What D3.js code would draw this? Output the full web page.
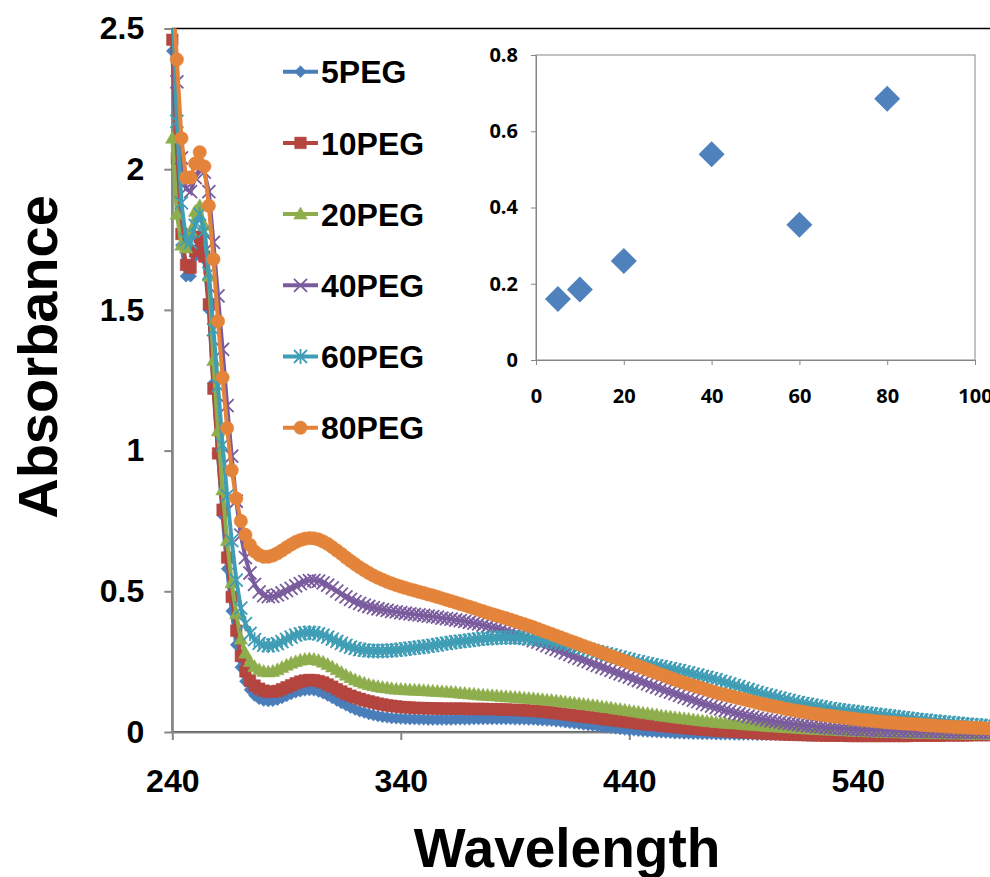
<!DOCTYPE html>
<html>
<head>
<meta charset="utf-8">
<script src="https://cdn.jsdelivr.net/npm/d3@7"></script>
<style>
body { margin: 0; background: #fff; }
svg text { font-family: "Liberation Sans", Arial, sans-serif; font-weight: bold; }
</style>
</head>
<body>
<div id="chart"></div>
<script>
// Chart size
var svgWidth = 990;
var svgHeight = 877;

// Wavelength grid (nm), one reading every 2 nm
var wavelength = d3.range(240, 601, 2);

// Absorbance readings for each sample, 240..600 nm
var abs5 = [
  2.42, 2.00, 1.73, 1.62, 1.62, 1.69, 1.74, 1.68, 1.50, 1.24,
  0.99, 0.77, 0.58, 0.43, 0.31, 0.23, 0.18, 0.15, 0.13, 0.118,
  0.112, 0.110, 0.111, 0.115, 0.121, 0.128, 0.135, 0.141, 0.145, 0.148,
  0.149, 0.148, 0.144, 0.138, 0.130, 0.121, 0.112, 0.103, 0.095, 0.087,
  0.080, 0.074, 0.069, 0.064, 0.060, 0.057, 0.054, 0.052, 0.050, 0.049,
  0.048, 0.047, 0.046, 0.046, 0.045, 0.045, 0.044, 0.044, 0.044, 0.044,
  0.044, 0.044, 0.045, 0.045, 0.045, 0.045, 0.046, 0.046, 0.046, 0.046,
  0.046, 0.046, 0.046, 0.046, 0.046, 0.045, 0.045, 0.045, 0.044, 0.044,
  0.043, 0.042, 0.041, 0.040, 0.038, 0.037, 0.035, 0.033, 0.031, 0.029,
  0.027, 0.025, 0.023, 0.021, 0.019, 0.017, 0.015, 0.013, 0.011, 0.009,
  0.007, 0.006, 0.004, 0.003, 0.002, 0.001, 0.000, -0.001, -0.002, -0.003,
  -0.004, -0.004, -0.005, -0.005, -0.006, -0.006, -0.007, -0.007, -0.007, -0.008,
  -0.008, -0.008, -0.008, -0.009, -0.009, -0.009, -0.009, -0.009, -0.010, -0.010,
  -0.010, -0.010, -0.010, -0.010, -0.010, -0.010, -0.010, -0.010, -0.010, -0.010,
  -0.010, -0.010, -0.010, -0.010, -0.010, -0.010, -0.010, -0.010, -0.010, -0.010,
  -0.010, -0.010, -0.010, -0.010, -0.010, -0.010, -0.010, -0.009, -0.009, -0.009,
  -0.009, -0.009, -0.009, -0.009, -0.009, -0.009, -0.009, -0.008, -0.008, -0.008,
  -0.008, -0.008, -0.008, -0.008, -0.008, -0.008, -0.008, -0.008, -0.007, -0.007,
  -0.007
];

var abs10 = [
  2.46, 2.04, 1.77, 1.66, 1.65, 1.71, 1.76, 1.69, 1.52, 1.22,
  0.99, 0.79, 0.62, 0.48, 0.36, 0.27, 0.215, 0.183, 0.165, 0.154,
  0.147, 0.143, 0.143, 0.146, 0.152, 0.159, 0.166, 0.173, 0.179, 0.183,
  0.185, 0.184, 0.181, 0.176, 0.169, 0.161, 0.152, 0.144, 0.136, 0.129,
  0.123, 0.118, 0.113, 0.109, 0.105, 0.101, 0.098, 0.095, 0.093, 0.091,
  0.089, 0.088, 0.087, 0.086, 0.085, 0.085, 0.084, 0.084, 0.084, 0.083,
  0.083, 0.083, 0.083, 0.083, 0.083, 0.082, 0.082, 0.082, 0.082, 0.081,
  0.081, 0.081, 0.080, 0.080, 0.079, 0.079, 0.078, 0.077, 0.076, 0.075,
  0.074, 0.073, 0.071, 0.069, 0.067, 0.065, 0.063, 0.061, 0.059, 0.057,
  0.055, 0.053, 0.051, 0.049, 0.047, 0.045, 0.043, 0.041, 0.039, 0.037,
  0.035, 0.033, 0.031, 0.029, 0.027, 0.026, 0.024, 0.022, 0.021, 0.019,
  0.018, 0.016, 0.015, 0.013, 0.012, 0.010, 0.009, 0.008, 0.006, 0.005,
  0.004, 0.003, 0.002, 0.001, 0.000, -0.001, -0.002, -0.003, -0.004, -0.005,
  -0.006, -0.007, -0.007, -0.008, -0.009, -0.009, -0.010, -0.010, -0.011, -0.011,
  -0.012, -0.012, -0.012, -0.013, -0.013, -0.013, -0.013, -0.013, -0.014, -0.014,
  -0.014, -0.014, -0.014, -0.014, -0.014, -0.014, -0.014, -0.014, -0.014, -0.014,
  -0.014, -0.014, -0.013, -0.013, -0.013, -0.013, -0.013, -0.013, -0.013, -0.012,
  -0.012, -0.012, -0.012, -0.012, -0.012, -0.011, -0.011, -0.011, -0.011, -0.011,
  -0.011
];

var abs20 = [
  2.11, 1.84, 1.73, 1.72, 1.78, 1.85, 1.87, 1.80, 1.62, 1.32,
  1.07, 0.86, 0.68, 0.53, 0.42, 0.33, 0.28, 0.25, 0.232, 0.221,
  0.215, 0.213, 0.215, 0.221, 0.229, 0.237, 0.244, 0.250, 0.255, 0.258,
  0.259, 0.258, 0.254, 0.248, 0.240, 0.231, 0.221, 0.211, 0.202, 0.193,
  0.185, 0.179, 0.173, 0.168, 0.164, 0.161, 0.158, 0.156, 0.154, 0.152,
  0.151, 0.150, 0.149, 0.148, 0.148, 0.147, 0.146, 0.145, 0.144, 0.143,
  0.142, 0.141, 0.140, 0.138, 0.137, 0.135, 0.134, 0.132, 0.131, 0.130,
  0.129, 0.128, 0.126, 0.125, 0.124, 0.123, 0.122, 0.120, 0.119, 0.118,
  0.116, 0.115, 0.113, 0.112, 0.110, 0.108, 0.106, 0.104, 0.102, 0.100,
  0.098, 0.096, 0.094, 0.092, 0.089, 0.087, 0.085, 0.082, 0.080, 0.077,
  0.075, 0.072, 0.070, 0.067, 0.065, 0.062, 0.060, 0.057, 0.055, 0.053,
  0.051, 0.049, 0.047, 0.045, 0.043, 0.041, 0.039, 0.037, 0.036, 0.034,
  0.033, 0.031, 0.030, 0.029, 0.028, 0.026, 0.025, 0.024, 0.023, 0.021,
  0.020, 0.019, 0.018, 0.017, 0.016, 0.015, 0.014, 0.013, 0.012, 0.011,
  0.010, 0.009, 0.008, 0.007, 0.007, 0.006, 0.005, 0.004, 0.004, 0.003,
  0.002, 0.002, 0.001, 0.000, 0.000, -0.001, -0.001, -0.002, -0.002, -0.003,
  -0.003, -0.004, -0.004, -0.004, -0.005, -0.005, -0.005, -0.006, -0.006, -0.006,
  -0.007, -0.007, -0.007, -0.007, -0.008, -0.008, -0.008, -0.008, -0.008, -0.009,
  -0.009
];

var abs40 = [
  2.60, 2.31, 2.04, 1.93, 1.92, 1.97, 2.00, 1.99, 1.92, 1.74,
  1.55, 1.36, 1.16, 0.98, 0.82, 0.70, 0.62, 0.565, 0.525, 0.498,
  0.485, 0.481, 0.482, 0.487, 0.494, 0.502, 0.510, 0.519, 0.527, 0.534,
  0.538, 0.539, 0.536, 0.530, 0.522, 0.512, 0.501, 0.490, 0.480, 0.471,
  0.463, 0.457, 0.451, 0.446, 0.442, 0.438, 0.435, 0.432, 0.429, 0.427,
  0.424, 0.422, 0.420, 0.418, 0.416, 0.414, 0.412, 0.410, 0.408, 0.405,
  0.403, 0.401, 0.398, 0.396, 0.393, 0.390, 0.387, 0.384, 0.380, 0.376,
  0.372, 0.368, 0.363, 0.358, 0.353, 0.348, 0.342, 0.337, 0.331, 0.325,
  0.319, 0.313, 0.307, 0.300, 0.294, 0.288, 0.281, 0.275, 0.268, 0.262,
  0.256, 0.250, 0.243, 0.237, 0.231, 0.225, 0.219, 0.213, 0.207, 0.201,
  0.195, 0.189, 0.183, 0.177, 0.171, 0.165, 0.159, 0.153, 0.147, 0.142,
  0.136, 0.130, 0.124, 0.119, 0.113, 0.108, 0.102, 0.097, 0.092, 0.087,
  0.082, 0.077, 0.073, 0.068, 0.064, 0.060, 0.056, 0.053, 0.049, 0.046,
  0.043, 0.040, 0.037, 0.035, 0.032, 0.030, 0.028, 0.026, 0.024, 0.022,
  0.021, 0.019, 0.018, 0.016, 0.015, 0.014, 0.013, 0.012, 0.011, 0.010,
  0.009, 0.008, 0.008, 0.007, 0.006, 0.006, 0.005, 0.005, 0.004, 0.004,
  0.003, 0.003, 0.003, 0.002, 0.002, 0.002, 0.001, 0.001, 0.001, 0.001,
  0.000, 0.000, 0.000, 0.000, 0.000, -0.001, -0.001, -0.001, -0.001, -0.001,
  -0.001
];

var abs60 = [
  2.60, 2.17, 1.88, 1.75, 1.74, 1.80, 1.84, 1.78, 1.63, 1.43,
  1.23, 1.02, 0.84, 0.68, 0.54, 0.44, 0.385, 0.350, 0.328, 0.315,
  0.309, 0.307, 0.309, 0.314, 0.321, 0.329, 0.337, 0.344, 0.349, 0.352,
  0.353, 0.352, 0.349, 0.344, 0.337, 0.330, 0.322, 0.315, 0.308, 0.302,
  0.297, 0.293, 0.291, 0.289, 0.288, 0.288, 0.288, 0.289, 0.290, 0.291,
  0.293, 0.295, 0.297, 0.299, 0.301, 0.303, 0.305, 0.308, 0.310, 0.313,
  0.315, 0.318, 0.320, 0.322, 0.324, 0.326, 0.328, 0.330, 0.332, 0.333,
  0.334, 0.335, 0.336, 0.336, 0.336, 0.336, 0.335, 0.334, 0.333, 0.331,
  0.329, 0.327, 0.325, 0.322, 0.319, 0.316, 0.313, 0.309, 0.305, 0.302,
  0.298, 0.294, 0.290, 0.286, 0.282, 0.278, 0.274, 0.270, 0.266, 0.262,
  0.258, 0.254, 0.250, 0.246, 0.242, 0.239, 0.235, 0.232, 0.228, 0.225,
  0.221, 0.218, 0.214, 0.210, 0.206, 0.202, 0.198, 0.194, 0.190, 0.186,
  0.181, 0.176, 0.171, 0.166, 0.161, 0.156, 0.151, 0.146, 0.141, 0.136,
  0.132, 0.128, 0.124, 0.120, 0.116, 0.112, 0.108, 0.104, 0.101, 0.098,
  0.095, 0.092, 0.089, 0.086, 0.083, 0.080, 0.078, 0.076, 0.074, 0.072,
  0.070, 0.068, 0.066, 0.064, 0.062, 0.060, 0.058, 0.056, 0.054, 0.052,
  0.050, 0.048, 0.046, 0.044, 0.042, 0.041, 0.039, 0.037, 0.036, 0.034,
  0.033, 0.031, 0.030, 0.028, 0.027, 0.025, 0.024, 0.023, 0.021, 0.020,
  0.019
];

var abs80 = [
  2.65, 2.39, 2.11, 1.97, 1.97, 2.02, 2.06, 2.01, 1.87, 1.68,
  1.46, 1.26, 1.08, 0.93, 0.83, 0.75, 0.70, 0.665, 0.642, 0.629,
  0.623, 0.623, 0.627, 0.635, 0.645, 0.656, 0.666, 0.675, 0.682, 0.687,
  0.689, 0.688, 0.684, 0.677, 0.668, 0.657, 0.645, 0.633, 0.620, 0.608,
  0.596, 0.585, 0.575, 0.565, 0.556, 0.548, 0.541, 0.534, 0.528, 0.522,
  0.517, 0.512, 0.507, 0.503, 0.498, 0.494, 0.489, 0.485, 0.480, 0.475,
  0.470, 0.465, 0.460, 0.455, 0.450, 0.445, 0.440, 0.434, 0.429, 0.424,
  0.419, 0.414, 0.409, 0.404, 0.399, 0.394, 0.388, 0.383, 0.378, 0.372,
  0.366, 0.360, 0.354, 0.348, 0.342, 0.336, 0.330, 0.324, 0.318, 0.312,
  0.306, 0.300, 0.294, 0.288, 0.282, 0.276, 0.270, 0.264, 0.258, 0.252,
  0.246, 0.240, 0.234, 0.228, 0.222, 0.216, 0.210, 0.204, 0.198, 0.192,
  0.186, 0.180, 0.175, 0.170, 0.165, 0.160, 0.155, 0.150, 0.145, 0.140,
  0.136, 0.132, 0.128, 0.124, 0.120, 0.116, 0.112, 0.108, 0.104, 0.100,
  0.097, 0.093, 0.090, 0.087, 0.083, 0.080, 0.077, 0.074, 0.072, 0.069,
  0.066, 0.064, 0.061, 0.059, 0.057, 0.055, 0.053, 0.051, 0.049, 0.047,
  0.045, 0.043, 0.042, 0.040, 0.038, 0.037, 0.035, 0.034, 0.033, 0.031,
  0.030, 0.029, 0.028, 0.027, 0.025, 0.024, 0.023, 0.022, 0.021, 0.020,
  0.019, 0.018, 0.018, 0.017, 0.016, 0.015, 0.014, 0.014, 0.013, 0.012,
  0.012
];

var seriesNames = ["5PEG", "10PEG", "20PEG", "40PEG", "60PEG", "80PEG"];
var seriesValues = [abs5, abs10, abs20, abs40, abs60, abs80];
var seriesColors = ["#4a7ebb", "#b5453f", "#8eae4d", "#7a5c9e", "#3f9db5", "#e4843a"];
var seriesMarkers = ["diamond", "square", "triangle", "cross", "star", "circle"];

// Main axis ticks
var xTicks = [240, 340, 440, 540];
var yTicks = [0, 0.5, 1, 1.5, 2, 2.5];

// Inset: absorbance at the hump vs PEG amount
var insetPEG = [5, 10, 20, 40, 60, 80];
var insetAbs = [0.16, 0.185, 0.26, 0.54, 0.355, 0.685];
var insetXTicks = [0, 20, 40, 60, 80, 100];
var insetYTicks = [0, 0.2, 0.4, 0.6, 0.8];

var svg = d3.select("#chart")
    .append("svg")
    .attr("width", svgWidth)
    .attr("height", svgHeight);

var x = d3.scaleLinear().domain([240, 600]).range([172.3, 994.9]);
var y = d3.scaleLinear().domain([0, 2.5]).range([732, 28.5]);

var axisGrey = "#868686";

// Plot area border (only top is visible, the axes cover the rest)
svg.append("rect")
    .attr("x", x(240))
    .attr("y", y(2.5))
    .attr("width", x(600) - x(240))
    .attr("height", y(0) - y(2.5))
    .attr("fill", "none")
    .attr("stroke", "#000")
    .attr("stroke-width", 1.5);

// Axes
var yAxis = svg.append("g")
    .attr("transform", `translate(${x(240)},0)`)
    .call(d3.axisLeft(y).tickValues(yTicks).tickSize(8).tickSizeOuter(0).tickPadding(20).tickFormat(d => d));

var xAxis = svg.append("g")
    .attr("transform", `translate(0,${y(0)})`)
    .call(d3.axisBottom(x).tickValues(xTicks).tickSize(8).tickSizeOuter(0).tickPadding(29).tickFormat(d => d));

[yAxis, xAxis].forEach(function(g) {
    g.selectAll("path, line").attr("stroke", axisGrey).attr("stroke-width", 2);
    g.selectAll("text")
        .attr("font-size", 32)
        .attr("fill", "#000")
        .style("font-family", "'Liberation Sans', Arial, sans-serif")
        .style("font-weight", "bold");
});

// Axis titles
svg.append("text")
    .attr("x", 567)
    .attr("y", 867)
    .attr("text-anchor", "middle")
    .attr("font-size", 55)
    .text("Wavelength");

svg.append("text")
    .attr("transform", "translate(57,357) rotate(-90)")
    .attr("text-anchor", "middle")
    .attr("font-size", 56)
    .text("Absorbance");

// Marker shapes
function markerPath(kind) {
    switch (kind) {
        case "diamond": return "M0,-6L6,0L0,6L-6,0Z";
        case "square": return "M-5.8,-5.8H5.8V5.8H-5.8Z";
        case "triangle": return "M0,-7L6.8,5H-6.8Z";
        case "cross": return "M-6.5,-6.5L6.5,6.5M-6.5,6.5L6.5,-6.5";
        case "star": return "M-6.5,-6.5L6.5,6.5M-6.5,6.5L6.5,-6.5M0,-7.5V7.5";
        default: return d3.symbol(d3.symbolCircle, Math.PI * 6.7 * 6.7)();
    }
}

function drawMarker(g, kind, color) {
    var p = g.append("path").attr("d", markerPath(kind));
    if (kind === "cross" || kind === "star") {
        p.attr("fill", "none").attr("stroke", color).attr("stroke-width", 1.8);
    } else {
        p.attr("fill", color).attr("stroke", color).attr("stroke-width", 0.5);
    }
}

// Clip at the top of the plot area
svg.append("clipPath")
    .attr("id", "plotClip")
    .append("rect")
    .attr("x", 150)
    .attr("y", y(2.5))
    .attr("width", 860)
    .attr("height", 780);

var plot = svg.append("g").attr("clip-path", "url(#plotClip)");

var line = d3.line()
    .x((d, i) => x(wavelength[i]))
    .y(d => y(d));

seriesValues.forEach(function(vals, s) {
    var color = seriesColors[s];
    plot.append("path")
        .datum(vals)
        .attr("d", line)
        .attr("fill", "none")
        .attr("stroke", color)
        .attr("stroke-width", 4)
        .attr("stroke-linejoin", "round");

    var mg = plot.append("g");
    vals.forEach(function(v, i) {
        var g = mg.append("g").attr("transform", `translate(${x(wavelength[i])},${y(v)})`);
        drawMarker(g, seriesMarkers[s], color);
    });
});

// Legend
var legend = svg.append("g");
seriesNames.forEach(function(name, i) {
    var ly = 71.7 + i * 71.2;
    legend.append("line")
        .attr("x1", 283).attr("x2", 318)
        .attr("y1", ly).attr("y2", ly)
        .attr("stroke", seriesColors[i])
        .attr("stroke-width", 4);
    var g = legend.append("g").attr("transform", `translate(300.5,${ly})`);
    drawMarker(g, seriesMarkers[i], seriesColors[i]);
    legend.append("text")
        .attr("x", 321)
        .attr("y", ly + 11.7)
        .attr("font-size", 32)
        .text(name);
});

// Inset chart
var ix = d3.scaleLinear().domain([0, 100]).range([536, 975]);
var iy = d3.scaleLinear().domain([0, 0.8]).range([360, 55]);

var inset = svg.append("g");

inset.append("rect")
    .attr("x", ix(0))
    .attr("y", iy(0.8))
    .attr("width", ix(100) - ix(0))
    .attr("height", iy(0) - iy(0.8))
    .attr("fill", "#fff")
    .attr("stroke", axisGrey)
    .attr("stroke-width", 1);

var iyAxis = inset.append("g")
    .attr("transform", `translate(${ix(0)},0)`)
    .call(d3.axisLeft(iy).tickValues(insetYTicks).tickSize(5).tickSizeOuter(0).tickPadding(13).tickFormat(d => d));

var ixAxis = inset.append("g")
    .attr("transform", `translate(0,${iy(0)})`)
    .call(d3.axisBottom(ix).tickValues(insetXTicks).tickSize(5).tickSizeOuter(0).tickPadding(24).tickFormat(d => d));

[iyAxis, ixAxis].forEach(function(g) {
    g.selectAll("path, line").attr("stroke", axisGrey).attr("stroke-width", 1);
    g.selectAll("text")
        .attr("font-size", 20)
        .attr("fill", "#000")
        .style("font-family", "'Open Sans', 'Liberation Sans', sans-serif")
        .style("font-weight", "bold");
});

inset.selectAll("path.pt")
    .data(insetPEG)
    .enter()
    .append("path")
    .attr("class", "pt")
    .attr("d", "M0,-13L13,0L0,13L-13,0Z")
    .attr("transform", (d, i) => `translate(${ix(d)},${iy(insetAbs[i])})`)
    .attr("fill", "#4f81bd");
</script>
</body>
</html>
